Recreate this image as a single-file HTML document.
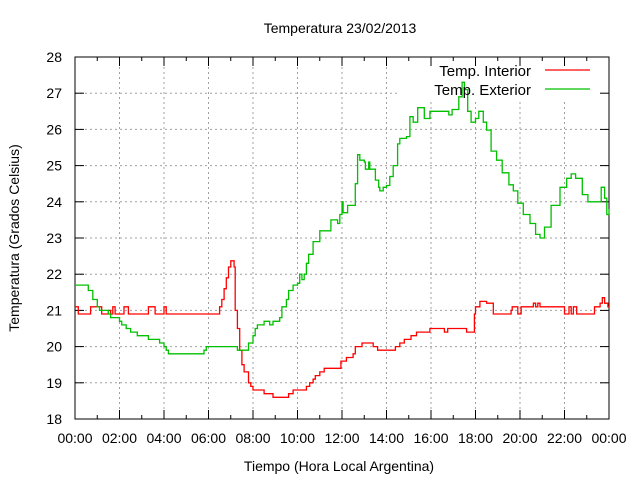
<!DOCTYPE html>
<html><head><meta charset="utf-8"><style>
body{margin:0;background:#fff}
svg{display:block;font-family:"Liberation Sans",sans-serif}
</style></head><body>
<svg id="chart" width="640" height="480" viewBox="0 0 640 480"></svg>
<script>
const yTicks=[18,19,20,21,22,23,24,25,26,27,28];
const xTickLabels=["00:00","02:00","04:00","06:00","08:00","10:00","12:00","14:00","16:00","18:00","20:00","22:00","00:00"];
const extT=[0,0.55,0.6,0.8,1.0,1.1,1.5,1.6,2.0,2.1,2.3,2.5,2.8,3.3,3.8,4.0,4.1,4.2,5.7,5.8,5.9,7.3,7.7,7.8,8.0,8.1,8.2,8.5,8.75,8.9,9.2,9.3,9.5,9.6,9.8,10.0,10.1,10.2,10.3,10.4,10.5,10.7,11.0,11.5,11.8,11.9,12.0,12.05,12.25,12.6,12.7,12.8,13.0,13.05,13.2,13.25,13.5,13.65,13.7,13.85,14.0,14.15,14.3,14.5,14.6,14.9,15.05,15.2,15.4,15.7,15.95,16.8,16.95,17.25,17.4,17.5,17.65,17.8,18.0,18.15,18.35,18.5,18.7,18.95,19.2,19.5,19.7,19.9,20.15,20.45,20.7,20.9,21.1,21.4,21.8,22.1,22.3,22.5,22.8,23.05,23.65,23.8,23.9,24];
const extV=[21.7,21.7,21.55,21.3,21.1,21.0,20.9,20.8,20.7,20.6,20.5,20.4,20.3,20.2,20.1,20.0,19.9,19.8,19.8,19.9,20.0,19.9,19.9,20.1,20.3,20.5,20.6,20.7,20.6,20.7,20.8,21.1,21.3,21.55,21.7,21.75,22.0,21.85,22.0,22.3,22.55,22.9,23.2,23.5,23.4,23.65,24.0,23.7,23.9,24.5,25.3,25.15,25.1,24.9,25.1,24.9,24.6,24.4,24.3,24.4,24.45,24.7,25.0,25.6,25.75,25.8,26.35,26.2,26.6,26.3,26.5,26.4,26.55,26.9,27.3,27.1,26.5,26.2,26.3,26.5,26.2,25.98,25.4,25.15,24.8,24.47,24.3,23.96,23.65,23.4,23.1,23.0,23.3,23.9,24.4,24.65,24.77,24.65,24.2,24.0,24.4,24.1,23.65,23.8];
const intT=[0,0.15,0.7,1.2,1.5,1.6,1.7,1.8,2.2,2.4,3.3,3.6,4.0,4.1,6.5,6.6,6.7,6.8,6.9,7.0,7.15,7.2,7.3,7.4,7.5,7.6,7.8,7.9,8.0,8.5,8.9,9.6,9.8,10.4,10.55,10.7,10.8,11.0,11.2,11.95,12.2,12.5,12.6,12.9,13.4,13.6,14.4,14.6,14.8,15.1,15.35,15.95,16.6,16.75,17.6,17.95,18.0,18.2,18.5,18.8,19.6,19.65,19.9,20.05,20.6,20.7,20.8,20.9,22.0,22.2,22.3,22.4,22.55,23.35,23.6,23.7,23.8,23.95,24];
const intV=[21.1,20.9,21.1,20.9,21.0,20.9,21.1,20.9,21.1,20.9,21.1,20.9,21.1,20.9,21.1,21.3,21.6,21.9,22.2,22.37,22.2,21.0,20.5,19.9,19.5,19.3,19.0,18.9,18.8,18.7,18.6,18.7,18.8,18.9,19.0,19.1,19.2,19.3,19.4,19.6,19.7,19.8,20.0,20.1,20.0,19.9,20.0,20.1,20.2,20.3,20.4,20.5,20.4,20.5,20.4,20.9,21.1,21.25,21.2,20.9,21.0,21.1,20.9,21.1,21.2,21.1,21.2,21.1,20.9,21.1,20.9,21.1,20.9,21.1,21.2,21.35,21.2,21.1,21.1];

const X0=75,X1=609,Y0=419,Y1=57;
const xs=h=>X0+(X1-X0)*h/24;
const ys=v=>Y0-(Y0-Y1)*(v-18)/10;
const svg=document.getElementById('chart');
const NS='http://www.w3.org/2000/svg';
function mk(tag,attrs,parent){const e=document.createElementNS(NS,tag);for(const k in attrs)e.setAttribute(k,attrs[k]);(parent||svg).appendChild(e);return e;}

// grid
const grid=mk('g',{});


yTicks.slice(1,-1).forEach(v=>{mk('line',{x1:X0,x2:X1,y1:ys(v),y2:ys(v),stroke:'#a0a0a0','stroke-dasharray':'2,3'},grid);});
xTickLabels.slice(1,-1).forEach((l,i)=>{const x=xs((i+1)*2);mk('line',{x1:x,x2:x,y1:Y0,y2:Y1,stroke:'#a0a0a0','stroke-dasharray':'2,3'},grid);});
// legend background
const kb=mk('rect',{x:397,y:58,width:211,height:42,fill:'#fff'});



// axes frame
const frame=mk('rect',{x:X0,y:Y1,width:X1-X0,height:Y0-Y1,fill:'none',stroke:'#000','stroke-width':1});



// ticks + labels
yTicks.forEach(v=>{const y=ys(v);
 mk('line',{x1:X0,x2:X0+9,y1:y,y2:y,stroke:'#000'});mk('line',{x1:X1,x2:X1-9,y1:y,y2:y,stroke:'#000'});
 const t=mk('text',{x:62,y:y+5,'text-anchor':'end','font-size':14});t.textContent=v;
 
 
});
for(let h=0;h<=24;h++){const x=xs(h);const L=h%2===0?9:4;
 mk('line',{x1:x,x2:x,y1:Y0,y2:Y0-L,stroke:'#000'});mk('line',{x1:x,x2:x,y1:Y1,y2:Y1+L,stroke:'#000'});}
xTickLabels.forEach((l,i)=>{const t=mk('text',{x:xs(i*2),y:443,'text-anchor':'middle','font-size':14});t.textContent=l;
 
 
});

function stepPath(T,V){let d='M'+xs(T[0]).toFixed(1)+','+ys(V[0]).toFixed(1);
 for(let i=1;i<T.length;i++){d+=' H'+xs(T[i]).toFixed(1)+' V'+ys(V[i]).toFixed(1);}return d;}
const pi=mk('path',{d:stepPath(intT,intV),fill:'none',stroke:'#ff0000','stroke-width':1.3});


const pe=mk('path',{d:stepPath(extT,extV),fill:'none',stroke:'#00c000','stroke-width':1.3});



// legend
[['Temp. Interior','#ff0000',70],['Temp. Exterior','#00c000',89]].forEach(([s,c,y])=>{
 const t=mk('text',{x:531,y:y+6,'text-anchor':'end','font-size':15});t.textContent=s;
 
 
 const l=mk('line',{x1:545,x2:590,y1:y,y2:y,stroke:c,'stroke-width':1.3});
 
 
});
// titles
const ti=mk('text',{x:340,y:33,'text-anchor':'middle','font-size':14});ti.textContent='Temperatura 23/02/2013';


const xt=mk('text',{x:339,y:471,'text-anchor':'middle','font-size':14});xt.textContent='Tiempo (Hora Local Argentina)';


const yt=mk('text',{x:0,y:0,'text-anchor':'middle','font-size':14,transform:'translate(19,238) rotate(-90)'});yt.textContent='Temperatura (Grados Celsius)';


</script>
</body></html>
